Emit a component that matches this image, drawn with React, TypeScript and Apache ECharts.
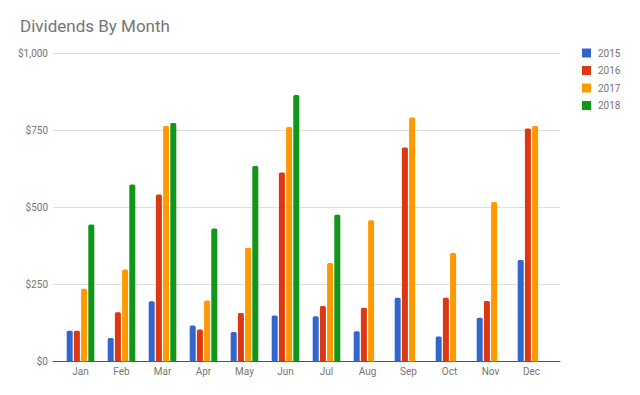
import React, { useEffect, useRef } from "react";
import * as echarts from "echarts";

const months = ["Jan", "Feb", "Mar", "Apr", "May", "Jun", "Jul", "Aug", "Sep", "Oct", "Nov", "Dec"];
const years = ["2015", "2016", "2017", "2018"];
const d2015 = [100, 76, 195, 117, 96, 149, 147, 98, 207, 81, 142, 329];
const d2016 = [100, 160, 541, 104, 157, 613, 180, 174, 694, 207, 196, 755];
const d2017 = [236, 298, 763, 198, 369, 760, 319, 458, 791, 352, 517, 763];
const d2018 = [444, 574, 773, 431, 634, 864, 476, null, null, null, null, null];
const yTicks = [0, 250, 500, 750, 1000];
const colors = ["#3366cc", "#dc3912", "#ff9900", "#109618"];

export default function App() {
  const ref = useRef<HTMLDivElement>(null);
  useEffect(() => {
    if (!ref.current) return;
    const chart = echarts.init(ref.current, null, { renderer: "svg" });
    const font = "Roboto, Arial, sans-serif";
    const data = [d2015, d2016, d2017, d2018];
    chart.setOption({
      animation: false,
      color: colors,
      title: {
        text: "Dividends By Month",
        left: 20,
        top: 17,
        padding: 0,
        textStyle: { fontFamily: font, fontSize: 17, fontWeight: "normal", color: "#757575" },
      },
      legend: {
        orient: "vertical",
        left: 582,
        top: 48,
        padding: 0,
        itemWidth: 9,
        itemHeight: 9,
        itemGap: 7.5,
        icon: "rect",
        data: years,
        textStyle: { fontFamily: font, fontSize: 10, color: "#757575", padding: [0, 0, 0, 2] },
      },
      grid: [
        { left: 53, right: 80, top: 53, bottom: 33.5 },
        { left: 60, right: 88, top: 53, bottom: 33.5 },
      ],
      xAxis: [
        {
          type: "category",
          gridIndex: 0,
          data: [""],
          axisLine: { show: true, lineStyle: { color: "#555555", width: 1 } },
          axisTick: { show: false },
          axisLabel: { show: false },
          splitLine: { show: false },
        },
        {
          type: "category",
          gridIndex: 1,
          data: months,
          axisLine: { show: false },
          axisTick: { show: false },
          axisLabel: { fontFamily: font, fontSize: 10, color: "#757575", margin: 5 },
        },
      ],
      yAxis: [
        {
          type: "value",
          gridIndex: 0,
          min: yTicks[0],
          max: yTicks[yTicks.length - 1],
          interval: 250,
          axisLine: { show: false },
          axisTick: { show: false },
          axisLabel: {
            fontFamily: font,
            fontSize: 10,
            color: "#757575",
            margin: 5,
            formatter: (v: number) => "$" + v.toLocaleString("en-US"),
          },
          splitLine: { lineStyle: { color: "#e0e0e0", width: 1 } },
        },
        {
          type: "value",
          gridIndex: 1,
          min: yTicks[0],
          max: yTicks[yTicks.length - 1],
          show: false,
          splitLine: { show: false },
        },
      ],
      series: years.map((y, i) => ({
        name: y,
        type: "bar",
        xAxisIndex: 1,
        yAxisIndex: 1,
        data: data[i],
        barWidth: 6,
        barGap: "20%",
        itemStyle: { color: colors[i], borderRadius: [1.5, 1.5, 0, 0] },
      })),
    });
    return () => chart.dispose();
  }, []);
  return <div ref={ref} style={{ width: 640, height: 395, position: "absolute", left: 0, top: 0 }} />;
}
